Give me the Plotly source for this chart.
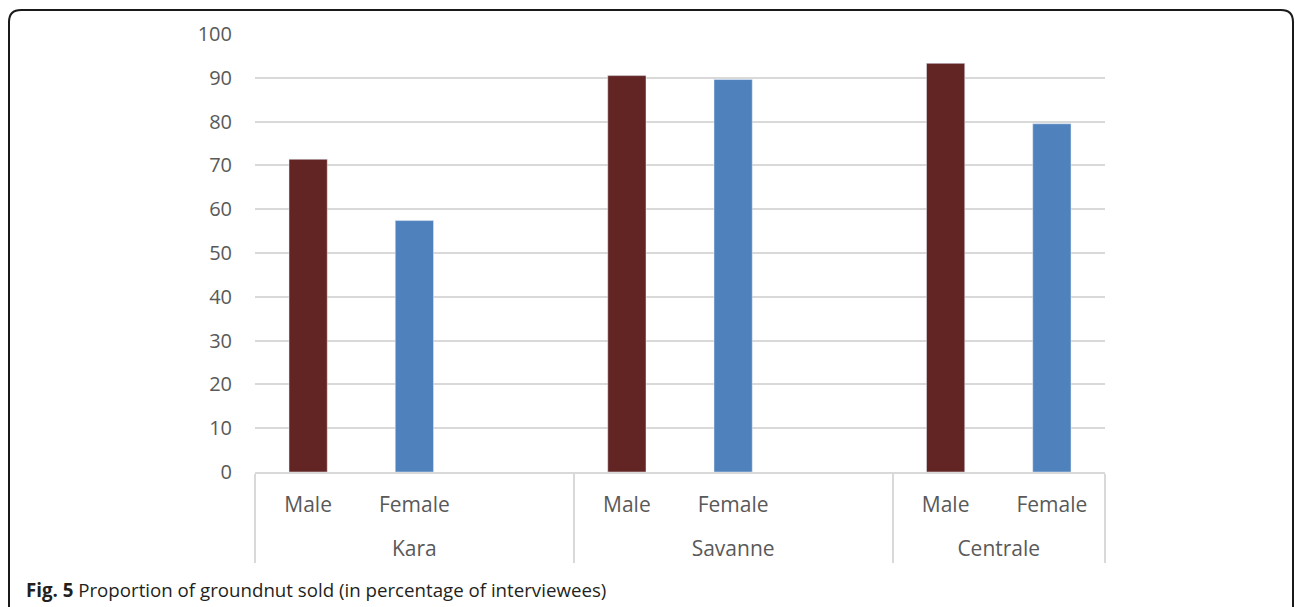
import plotly.graph_objects as go

regions = ["Kara", "Savanne", "Centrale"]
genders = ["Male", "Female"]
male_values = [71.4, 90.5, 93.3]
female_values = [57.4, 89.6, 79.5]
gap_regions = ["Kara", "Savanne"]  # empty third slot in these groups
caption_bold = "Fig. 5"
caption_text = "Proportion of groundnut sold (in percentage of interviewees)"

MALE_COLOR = "#632523"
FEMALE_COLOR = "#4F81BD"
FONT = "Open Sans"

# inner labels get an extra blank line so the region row sits lower, as in the reference
def lab(g):
    return g + "<br>&nbsp;"

# full category order (outer, inner)
outer, inner = [], []
for r in regions:
    outer += [r] * len(genders)
    inner += [lab(g) for g in genders]
    if r in gap_regions:
        outer.append(r)
        inner.append(" ")

fig = go.Figure()
# invisible trace to register every slot in order
fig.add_trace(go.Bar(x=[outer, inner], y=[None] * len(outer), showlegend=False,
                     hoverinfo="skip", marker_color="rgba(0,0,0,0)"))
fig.add_trace(go.Bar(x=[regions, [lab("Male")] * len(regions)], y=male_values,
                     marker_color=MALE_COLOR, width=0.36, name="Male", showlegend=False))
fig.add_trace(go.Bar(x=[regions, [lab("Female")] * len(regions)], y=female_values,
                     marker_color=FEMALE_COLOR, width=0.36, name="Female", showlegend=False))

W, H = 1295, 607
L, R, T, B = 255, 190, 34, 135
pw, ph = W - L - R, H - T - B

def px(x):
    return (x - L) / pw

def py(y):
    return (H - B - y) / ph

x0, x1 = px(9), px(1293)
ytop, ybot = py(10), py(612)
rx, ry = 12 / pw, 12 / ph
path = (f"M {x0},{ybot} L {x0},{ytop - ry} Q {x0},{ytop} {x0 + rx},{ytop} "
        f"L {x1 - rx},{ytop} Q {x1},{ytop} {x1},{ytop - ry} L {x1},{ybot}")

fig.update_layout(
    width=W, height=H,
    margin=dict(l=L, r=R, t=T, b=B),
    paper_bgcolor="white", plot_bgcolor="white",
    barmode="overlay",
    font=dict(family=FONT, size=20, color="#595959"),
    shapes=[dict(type="path", path=path, xref="paper", yref="paper",
                 line=dict(color="#1a1a1a", width=2), layer="above")],
    annotations=[dict(text=f"<b>{caption_bold}</b> {caption_text}", xref="paper", yref="paper",
                      x=px(24), y=py(589), xanchor="left", yanchor="middle", showarrow=False,
                      font=dict(family=FONT, size=18.7, color="#231f20"))],
)
fig.update_yaxes(range=[0, 100], dtick=10, showgrid=True, gridcolor="#d9d9d9", gridwidth=1.5,
                 zeroline=False, showline=False, ticks="", ticklabelstandoff=22,
                 tickfont=dict(size=20, color="#595959"))
fig.update_xaxes(type="multicategory", range=[-0.5, len(outer) - 0.5],
                 showline=True, linecolor="#d9d9d9", linewidth=1.5,
                 showdividers=True, dividercolor="#d9d9d9", dividerwidth=1.5,
                 ticks="", ticklabelstandoff=13, tickfont=dict(size=21, color="#595959"))

fig.write_html("out.html", config={"displayModeBar": False},
               post_script="document.body.style.margin='0';")
